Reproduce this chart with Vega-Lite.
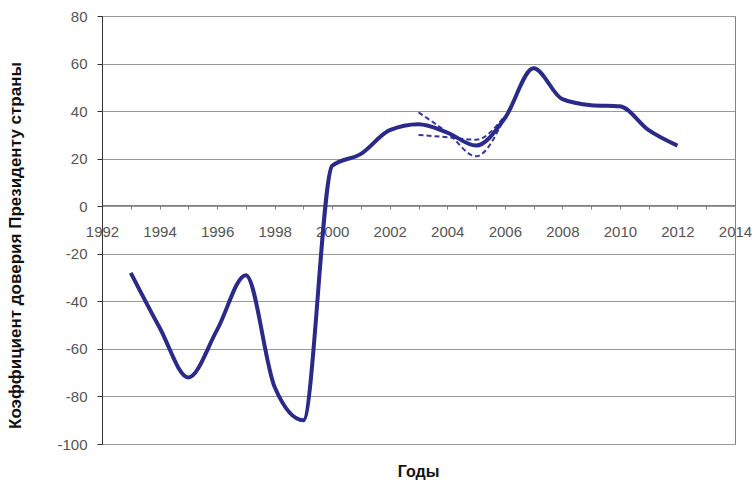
{
  "$schema": "https://vega.github.io/schema/vega-lite/v6.json",
  "width": 633,
  "height": 428,
  "autosize": "none",
  "padding": {"left": 102, "top": 16, "right": 21, "bottom": 39},
  "background": "white",
  "config": {
    "view": {"stroke": "#808080", "strokeWidth": 1},
    "font": "Liberation Sans",
    "axis": {"labelFont": "Liberation Sans", "titleFont": "Liberation Sans"}
  },
  "title": {
    "text": "Годы",
    "orient": "bottom",
    "anchor": "middle",
    "offset": 12,
    "fontSize": 16,
    "fontWeight": "bold",
    "color": "#111111",
    "font": "Liberation Sans"
  },
  "datasets": {
    "main": [
      {"year": 1993, "value": -28},
      {"year": 1994, "value": -51},
      {"year": 1995, "value": -72},
      {"year": 1996, "value": -52},
      {"year": 1997, "value": -29},
      {"year": 1998, "value": -76},
      {"year": 1999, "value": -90},
      {"year": 2000, "value": 17},
      {"year": 2001, "value": 22},
      {"year": 2002, "value": 32},
      {"year": 2003, "value": 34.5},
      {"year": 2004, "value": 31},
      {"year": 2005, "value": 25.5},
      {"year": 2006, "value": 37},
      {"year": 2007, "value": 58},
      {"year": 2008, "value": 45},
      {"year": 2009, "value": 42.5},
      {"year": 2010, "value": 42},
      {"year": 2011, "value": 32},
      {"year": 2012, "value": 25.5}
    ],
    "trend": [
      {"year": 2003, "value": 39.5, "series": "a"},
      {"year": 2004, "value": 31, "series": "a"},
      {"year": 2005, "value": 21, "series": "a"},
      {"year": 2006, "value": 37.5, "series": "a"},
      {"year": 2003, "value": 30, "series": "b"},
      {"year": 2004, "value": 29, "series": "b"},
      {"year": 2005, "value": 28, "series": "b"},
      {"year": 2006, "value": 38, "series": "b"}
    ]
  },
  "encoding": {
    "x": {
      "field": "year",
      "type": "quantitative",
      "scale": {"domain": [1992, 2014], "nice": false, "zero": false},
      "axis": {
        "title": null,
        "values": [1992, 1993, 1994, 1995, 1996, 1997, 1998, 1999, 2000, 2001, 2002, 2003, 2004, 2005, 2006, 2007, 2008, 2009, 2010, 2011, 2012, 2013, 2014],
        "labelExpr": "datum.value % 2 == 0 ? '' + datum.value : ''",
        "labelOverlap": false,
        "labelBound": false,
        "labelFlush": false,
        "offset": -239,
        "grid": false,
        "domainColor": "#808080",
        "tickColor": "#808080",
        "tickSize": 4,
        "labelColor": "#555555",
        "labelFontSize": 15,
        "labelPadding": 15
      }
    },
    "y": {
      "field": "value",
      "type": "quantitative",
      "scale": {"domain": [-100, 80], "nice": false},
      "axis": {
        "title": "Коэффициент доверия  Президенту страны",
        "titleFontSize": 17,
        "titleFontWeight": "bold",
        "titleColor": "#111111",
        "titlePadding": 32,
        "titleY": 229,
        "values": [-100, -80, -60, -40, -20, 0, 20, 40, 60, 80],
        "labelExpr": "'' + datum.value",
        "grid": true,
        "gridColor": "#999999",
        "gridWidth": 1,
        "domainColor": "#333333",
        "tickColor": "#333333",
        "tickSize": 5,
        "labelColor": "#555555",
        "labelFontSize": 15,
        "labelPadding": 10
      }
    }
  },
  "layer": [
    {
      "data": {"name": "trend"},
      "mark": {"type": "line", "interpolate": "monotone", "color": "#3535a5", "strokeWidth": 2, "strokeDash": [5, 3]},
      "encoding": {"detail": {"field": "series"}}
    },
    {
      "data": {"name": "main"},
      "mark": {"type": "line", "interpolate": "monotone", "color": "#2a2a8a", "strokeWidth": 4}
    }
  ]
}
